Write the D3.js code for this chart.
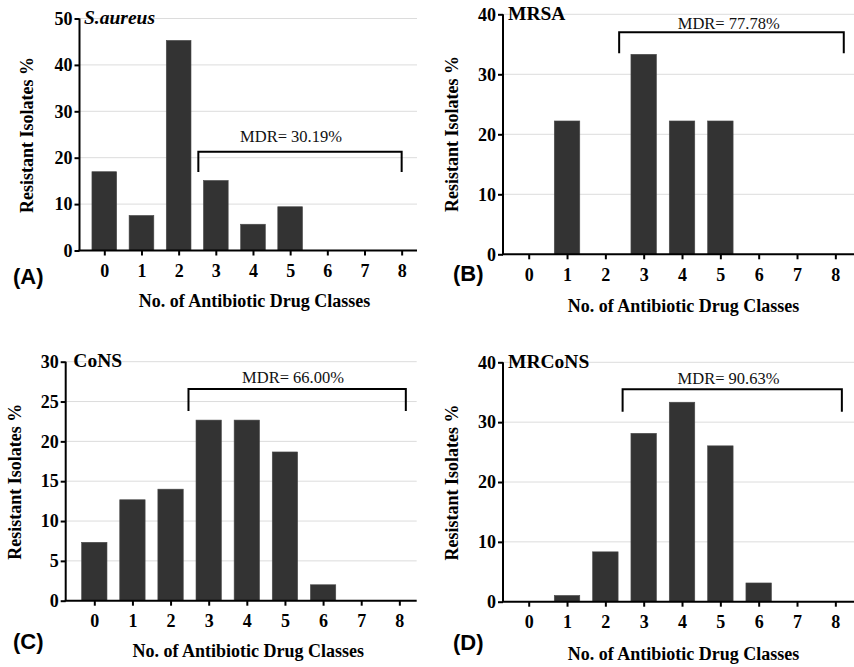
<!DOCTYPE html>
<html>
<head>
<meta charset="utf-8">
<script src="https://cdn.jsdelivr.net/npm/d3@7"></script>
<style>
  html, body { margin: 0; padding: 0; background: #fff; }
  svg { display: block; }
</style>
</head>
<body>
<svg id="chart" width="854" height="667"></svg>
<script>
// ---------------- DATA ----------------
const classes = [0, 1, 2, 3, 4, 5, 6, 7, 8];
const saureusValues = [16.98, 7.55, 45.28, 15.09, 5.66, 9.43, 0, 0, 0];
const mrsaValues    = [0, 22.22, 0, 33.33, 22.22, 22.22, 0, 0, 0];
const consValues    = [7.33, 12.67, 14.00, 22.67, 22.67, 18.67, 2.00, 0, 0];
const mrconsValues  = [0, 1.04, 8.33, 28.13, 33.33, 26.04, 3.13, 0, 0];

const panelNames   = ["S.aureus", "MRSA", "CoNS", "MRCoNS"];
const panelLetters = ["(A)", "(B)", "(C)", "(D)"];
const mdrLabels    = ["MDR= 30.19%", "MDR= 77.78%", "MDR= 66.00%", "MDR= 90.63%"];
const yTicksA = [0, 10, 20, 30, 40, 50];
const yTicksB = [0, 10, 20, 30, 40];
const yTicksC = [0, 5, 10, 15, 20, 25, 30];
const yTicksD = [0, 10, 20, 30, 40];
const xTitle = "No. of Antibiotic Drug Classes";
const yTitle = "Resistant Isolates %";

// ---------------- LAYOUT ----------------
const SERIF = "'Liberation Serif', 'DejaVu Serif', serif";
const layouts = [
  { values: saureusValues, ticks: yTicksA, italic: true,
    axisX: 79.5, y0: 250.5, yTop: 18.5, x0: 104.3, step: 37.17, right: 417,
    br: { from: 2.53, to: 8.0, top: 21.3, bottom: 16.9 },
    mdr: [291, 141.7], name: [84, 23.5], letter: [13, 284], tickY: 276.5,
    xt: [254.5, 307], yt: [33, 135] },
  { values: mrsaValues, ticks: yTicksB, italic: false,
    axisX: 503, y0: 254.3, yTop: 14.3, x0: 528.7, step: 38.33, right: 854,
    br: { from: 2.36, to: 8.22, top: 37, bottom: 33.5 },
    mdr: [728.7, 29], name: [508, 20], letter: [453, 280.5], tickY: 281,
    xt: [683.5, 312], yt: [458, 134] },
  { values: consValues, ticks: yTicksC, italic: false,
    axisX: 65.7, y0: 600.7, yTop: 361.7, x0: 94.3, step: 38.13, right: 416.7,
    br: { from: 2.47, to: 8.17, top: 26.56, bottom: 23.8 },
    mdr: [293, 383], name: [73.3, 367.3], letter: [13, 648.5], tickY: 627,
    xt: [248.3, 657], yt: [21, 481.7] },
  { values: mrconsValues, ticks: yTicksD, italic: false,
    axisX: 503, y0: 601.7, yTop: 362.3, x0: 528.7, step: 38.33, right: 854,
    br: { from: 2.45, to: 8.17, top: 35.5, bottom: 31.75 },
    mdr: [728.5, 383.5], name: [508, 368.3], letter: [453, 649.5], tickY: 628,
    xt: [683.5, 660], yt: [458, 482.5] }
];

const svg = d3.select("#chart");

function serifText(sel, size, weight) {
  return sel.style("font-family", SERIF).style("font-size", size + "px")
    .style("font-weight", weight).style("fill", "#000");
}

layouts.forEach((L, i) => {
  const g = svg.append("g");
  const yMax = L.ticks[L.ticks.length - 1];
  const x = d3.scaleLinear().domain([0, 8]).range([L.x0, L.x0 + 8 * L.step]);
  const y = d3.scaleLinear().domain([0, yMax]).range([L.y0, L.yTop]);
  const bw = L.step * 0.665;

  // gridlines
  g.append("g").selectAll("line").data(L.ticks.filter(t => t > 0)).join("line")
    .attr("x1", L.axisX).attr("x2", L.right)
    .attr("y1", d => y(d)).attr("y2", d => y(d))
    .attr("stroke", "#dcdcdc").attr("stroke-width", 1);

  // bars
  g.append("g").selectAll("rect").data(classes.filter(c => L.values[c] > 0)).join("rect")
    .attr("x", c => x(c) - bw / 2)
    .attr("width", bw)
    .attr("y", c => y(L.values[c]))
    .attr("height", c => L.y0 - y(L.values[c]))
    .attr("fill", "#333333")
    .attr("stroke", "#4a4a4a").attr("stroke-width", 0.6);

  // y axis
  const yAxis = d3.axisLeft(y).tickValues(L.ticks).tickSize(5).tickPadding(2).tickFormat(d3.format("d"));
  const ya = g.append("g").attr("transform", `translate(${L.axisX},0)`).call(yAxis);
  ya.select(".domain").attr("stroke", "#000").attr("stroke-width", 2)
    .attr("d", `M0,${L.y0}V${L.yTop}`);
  ya.selectAll(".tick line").attr("stroke", "#000").attr("stroke-width", 2);
  serifText(ya.selectAll(".tick text"), 18, "bold");

  // x axis
  const xAxis = d3.axisBottom(x).tickValues(classes).tickSize(5).tickFormat(d3.format("d"));
  const xa = g.append("g").attr("transform", `translate(0,${L.y0})`).call(xAxis);
  xa.select(".domain").attr("stroke", "#000").attr("stroke-width", 2)
    .attr("d", `M${L.axisX - 1},0H${L.right}`);
  xa.selectAll(".tick line").attr("stroke", "#000").attr("stroke-width", 2);
  serifText(xa.selectAll(".tick text"), 18, "bold")
    .attr("dy", null).attr("y", L.tickY - L.y0);

  // MDR bracket
  const b = L.br;
  g.append("path")
    .attr("d", `M${x(b.from)},${y(b.bottom)}V${y(b.top)}H${x(b.to)}V${y(b.bottom)}`)
    .attr("fill", "none").attr("stroke", "#000").attr("stroke-width", 2);
  serifText(g.append("text"), 16.5, "normal")
    .attr("x", L.mdr[0]).attr("y", L.mdr[1]).attr("text-anchor", "middle")
    .style("fill", "#111").text(mdrLabels[i]);

  // panel name
  serifText(g.append("text"), 19.5, "bold")
    .attr("x", L.name[0]).attr("y", L.name[1])
    .style("font-style", L.italic ? "italic" : "normal")
    .text(panelNames[i]);

  // panel letter
  g.append("text")
    .attr("x", L.letter[0]).attr("y", L.letter[1])
    .style("font-family", "'Liberation Sans', Arial, sans-serif")
    .style("font-size", "22px").style("font-weight", "bold").style("fill", "#000")
    .text(panelLetters[i]);

  // axis titles
  serifText(g.append("text"), 18, "bold")
    .attr("x", L.xt[0]).attr("y", L.xt[1]).attr("text-anchor", "middle").text(xTitle);
  serifText(g.append("text"), 18, "bold")
    .attr("transform", `translate(${L.yt[0]},${L.yt[1]}) rotate(-90)`)
    .attr("text-anchor", "middle").text(yTitle);
});
</script>
</body>
</html>
